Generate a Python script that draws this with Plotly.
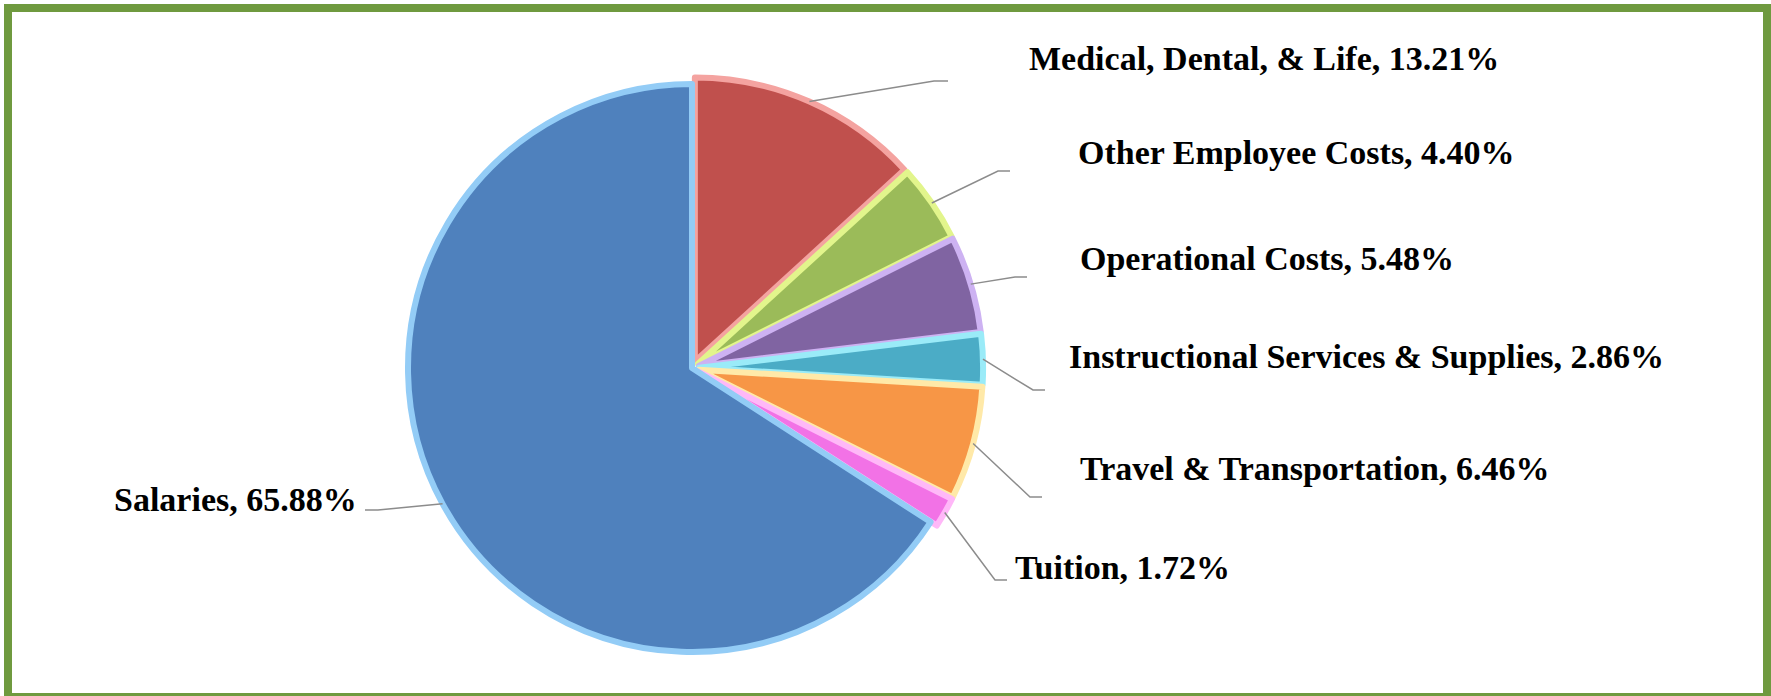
import math
import plotly.graph_objects as go

# slice data, clockwise from 12 o'clock
labels = [
    "Medical, Dental, & Life",
    "Other Employee Costs",
    "Operational Costs",
    "Instructional Services & Supplies",
    "Travel & Transportation",
    "Tuition",
    "Salaries",
]
values = [13.21, 4.40, 5.48, 2.86, 6.46, 1.72, 65.88]
colors = ["#C0504D", "#9BBB59", "#8064A2", "#4BACC6", "#F79646", "#F272E6", "#4F81BD"]
edge_colors = ["#F4A3A0", "#E2F58C", "#CDB2F2", "#9AEBF8", "#FFE9A8", "#FFB8F8", "#93CCF6"]
pulls = [0.025, 0.025, 0.025, 0.025, 0.025, 0.025, 0.0]

W, H = 1771, 696
CX, CY, R = 692, 368, 284          # pie centre / radius in px
BOX = R * (1 + max(pulls))

# label anchors (px) and leader elbows/ends (px)
label_pos = [(1027, 58), (1076, 152), (1078, 258), (1067, 356), (1078, 468), (1013, 567), (359, 499)]
elbows = [(934, 81), (998, 171), (1015, 277), (1033, 390), (1030, 497), (995, 580), (378, 510)]
ends = [(948, 81), (1010, 171), (1027, 277), (1045, 390), (1042, 497), (1007, 580), (365, 510)]


def px(x, y):
    return x / W, 1 - y / H


fig = go.Figure(go.Pie(
    labels=labels, values=values, sort=False, direction="clockwise", rotation=0,
    pull=pulls, textinfo="none", hoverinfo="label+percent",
    marker=dict(colors=colors, line=dict(color=edge_colors, width=6)),
    domain=dict(x=[(CX - BOX) / W, (CX + BOX) / W],
                y=[1 - (CY + BOX) / H, 1 - (CY - BOX) / H]),
    showlegend=False,
))

total = sum(values)
cum = 0
shapes = []
annotations = []
for i, (lab, v) in enumerate(zip(labels, values)):
    mid = (cum + v / 2) / total * 2 * math.pi
    cum += v
    r = R * (1 + pulls[i])
    sx, sy = CX + r * math.sin(mid), CY - r * math.cos(mid)
    pts = [(sx, sy), elbows[i], ends[i]]
    path = "M " + " L ".join(f"{px(a, b)[0]},{px(a, b)[1]}" for a, b in pts)
    shapes.append(dict(type="path", path=path, xref="paper", yref="paper",
                       line=dict(color="#8C8C8C", width=1.5)))
    lx, ly = px(*label_pos[i])
    annotations.append(dict(
        x=lx, y=ly, xref="paper", yref="paper", showarrow=False,
        text=f"<b>{lab}, {v:.2f}%</b>",
        xanchor="right" if lab == "Salaries" else "left", yanchor="middle",
        font=dict(family="Liberation Serif, Times New Roman, serif", size=34, color="black"),
    ))

# green frame
shapes.append(dict(type="rect", xref="paper", yref="paper",
                   x0=8 / W, x1=1767 / W, y0=1 - 697 / H, y1=1 - 8 / H,
                   line=dict(color="#6F9A3F", width=8)))

fig.update_layout(
    width=W, height=H, margin=dict(l=0, r=0, t=0, b=0),
    paper_bgcolor="white", plot_bgcolor="white",
    shapes=shapes, annotations=annotations,
)
# page body has a default 8px margin; drop it so the figure sits at 0,0
fig.write_html("out.html", config={"displayModeBar": False},
               post_script="document.body.style.margin='0';")
